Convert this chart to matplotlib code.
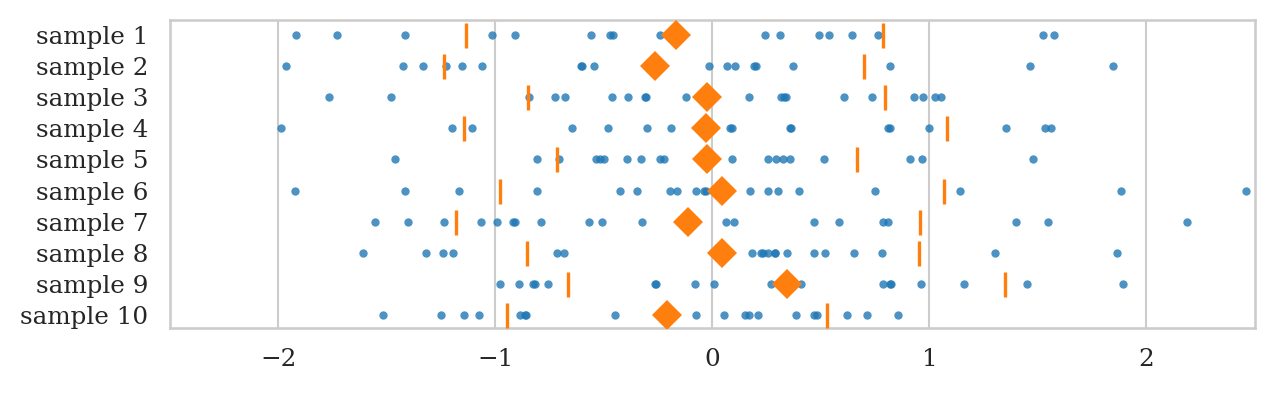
import matplotlib.pyplot as plt
import seaborn as sns

labels = ['sample %d' % i for i in range(1, 11)]

s1 = [-1.917, -1.728, -1.415, -1.014, -0.912, -0.562, -0.47, -0.46, -0.24, 0.24,
      0.313, 0.493, 0.539, 0.645, 0.765, 1.521, 1.576]
s2 = [-1.963, -1.428, -1.332, -1.226, -1.152, -1.06, -0.606, -0.60, -0.548, -0.018,
      0.065, 0.106, 0.19, 0.20, 0.373, 0.82, 1.461, 1.848]
s3 = [-1.765, -1.48, -0.845, -0.724, -0.678, -0.465, -0.387, -0.313, -0.306, -0.12,
      0.17, 0.318, 0.33, 0.34, 0.608, 0.737, 0.927, 0.972, 1.027, 1.054]
s4 = [-1.99, -1.198, -1.11, -0.646, -0.483, -0.301, -0.19, -0.05, 0.08, 0.09,
      0.355, 0.36, 0.81, 0.82, 1.0, 1.353, 1.533, 1.562]
s5 = [-1.465, -0.81, -0.705, -0.535, -0.52, -0.502, -0.395, -0.33, -0.24, -0.225,
      0.092, 0.258, 0.293, 0.326, 0.357, 0.512, 0.912, 0.966, 1.475]
s6 = [-1.922, -1.419, -1.17, -0.81, -0.424, -0.346, -0.196, -0.163, -0.077, -0.04,
      -0.03, 0.175, 0.255, 0.30, 0.40, 0.747, 1.14, 1.884, 2.46]
s7 = [-1.553, -1.405, -1.235, -1.065, -0.991, -0.92, -0.912, -0.79, -0.57, -0.507,
      -0.326, 0.064, 0.097, 0.47, 0.585, 0.787, 0.81, 1.40, 1.548, 2.188]
s8 = [-1.61, -1.322, -1.24, -1.194, -0.718, -0.682, 0.18, 0.224, 0.235, 0.255,
      0.286, 0.29, 0.345, 0.47, 0.52, 0.653, 0.779, 1.304, 1.862]
s9 = [-0.978, -0.893, -0.825, -0.818, -0.757, -0.267, -0.26, -0.079, 0.009, 0.272,
      0.35, 0.41, 0.785, 0.82, 0.825, 0.96, 1.157, 1.45, 1.893]
s10 = [-1.516, -1.249, -1.147, -1.074, -0.889, -0.862, -0.857, -0.451, -0.075, 0.055,
       0.152, 0.17, 0.212, 0.383, 0.47, 0.48, 0.622, 0.71, 0.853]
samples = [s1, s2, s3, s4, s5, s6, s7, s8, s9, s10]

means = [-0.17, -0.267, -0.026, -0.03, -0.027, 0.042, -0.115, 0.046, 0.343, -0.21]
lower = [-1.134, -1.235, -0.848, -1.147, -0.718, -0.98, -1.184, -0.856, -0.664, -0.945]
upper = [0.788, 0.70, 0.794, 1.08, 0.665, 1.066, 0.955, 0.95, 1.347, 0.527]

sns.set_theme(style='whitegrid')
plt.rcParams['font.family'] = ['DejaVu Serif']

fig, ax = plt.subplots(figsize=(8.5, 394 / 150), dpi=150)
fig.subplots_adjust(left=0.1333, right=0.9843, top=0.949, bottom=0.1675)

for i, vals in enumerate(samples):
    ax.plot(vals, [i] * len(vals), 'o', color='#1f77b4', alpha=0.8,
            ms=4, mew=0, zorder=2)
    ax.plot([lower[i], upper[i]], [i, i], '|', color='#ff7f0e', ms=12,
            mew=1.6, zorder=3)
    ax.plot(means[i], i, 'D', color='#ff7f0e', ms=10, mew=0, zorder=4)

ax.set_yticks(range(len(labels)))
ax.set_yticklabels(labels)
ax.set_xticks([-2, -1, 0, 1, 2])
ax.set_xticklabels(['\u22122', '\u22121', '0', '1', '2'])
ax.set_xlim(-2.5, 2.5)
ax.set_ylim(9.42, -0.48)
ax.grid(axis='y', visible=False)
ax.tick_params(axis='both', labelsize=11.8)
ax.tick_params(axis='y', pad=4.5)

fig.savefig('out.png', dpi=150)
